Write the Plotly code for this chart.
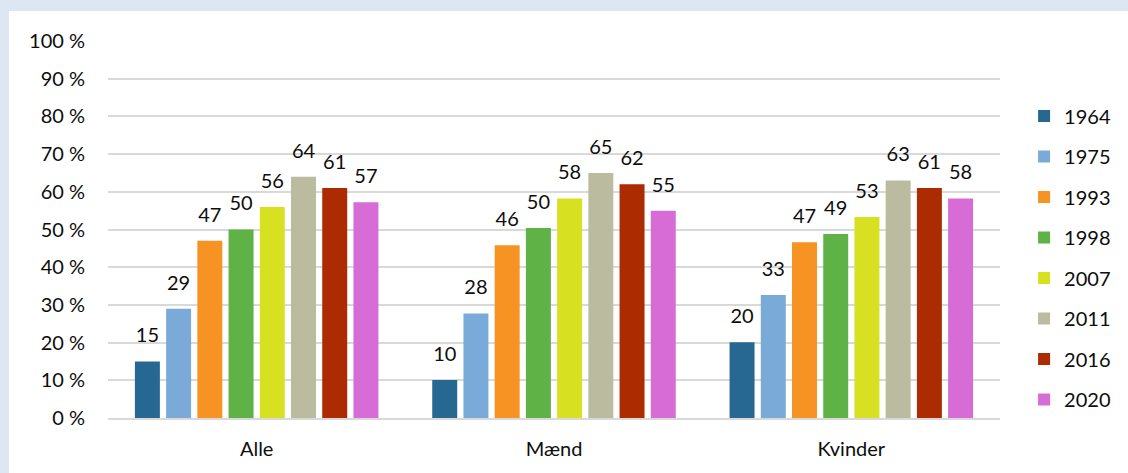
import plotly.graph_objects as go

categories = ["Alle", "Mænd", "Kvinder"]
years = ["1964", "1975", "1993", "1998", "2007", "2011", "2016", "2020"]
values = {
    "1964": [15.0, 10.1, 20.1],
    "1975": [29.0, 27.7, 32.6],
    "1993": [47.0, 45.8, 46.6],
    "1998": [50.0, 50.4, 48.8],
    "2007": [56.0, 58.2, 53.3],
    "2011": [64.0, 65.0, 63.0],
    "2016": [61.0, 62.0, 61.0],
    "2020": [57.2, 55.0, 58.2],
}
colors = ["#276893", "#79aad8", "#f69322", "#5fb246", "#d8e022", "#bbbba0", "#ad2b00", "#d76cd7"]
tick_vals = [0, 10, 20, 30, 40, 50, 60, 70, 80, 90, 100]
tick_text = [f"{v} %" for v in tick_vals]

FONT = "Lato, Carlito, 'Liberation Sans', sans-serif"

fig = go.Figure()
for i, y in enumerate(years):
    fig.add_trace(go.Bar(
        name=y, x=categories, y=values[y],
        marker=dict(color=colors[i], line=dict(width=0)),
        legendgroup=y, hoverinfo="skip",
    ))
for i, y in enumerate(years):
    fig.add_trace(go.Scatter(
        x=categories, y=values[y], mode="markers+text",
        text=[str(round(v)) for v in values[y]], textposition="top center",
        textfont=dict(size=20, color="#0d0d0d", family=FONT),
        marker=dict(size=21, opacity=0),
        showlegend=False, cliponaxis=False, hoverinfo="skip",
    ))

fig.update_layout(
    barmode="group", bargap=0.16, bargroupgap=0.2,
    scattermode="group", scattergap=0.16,
    width=1128, height=473,
    margin=dict(l=108, r=128, t=41, b=55),
    paper_bgcolor="#dde7f3", plot_bgcolor="white",
    font=dict(family=FONT, size=20, color="#0d0d0d"),
    legend=dict(x=1.027, xanchor="left", y=0.853, yanchor="top",
                font=dict(size=20, family=FONT, color="#0d0d0d"),
                tracegroupgap=11.5, bgcolor="rgba(0,0,0,0)"),
    shapes=[dict(type="rect", xref="paper", yref="paper",
                 x0=(9 - 108) / 892, x1=1.3, y0=-0.3, y1=(418 - 11) / 377,
                 fillcolor="white", line=dict(width=0), layer="below")],
)
fig.update_yaxes(range=[0, 100], tickvals=tick_vals, ticktext=tick_text,
                 showgrid=True, gridcolor="#d9d9d9", gridwidth=2,
                 zeroline=False, showline=False, ticks="",
                 tickfont=dict(size=20), ticklabelstandoff=22)
fig.update_xaxes(showline=True, linecolor="#d9d9d9", linewidth=2,
                 ticks="", tickfont=dict(size=20), ticklabelstandoff=12)

fig.write_html("out.html")
